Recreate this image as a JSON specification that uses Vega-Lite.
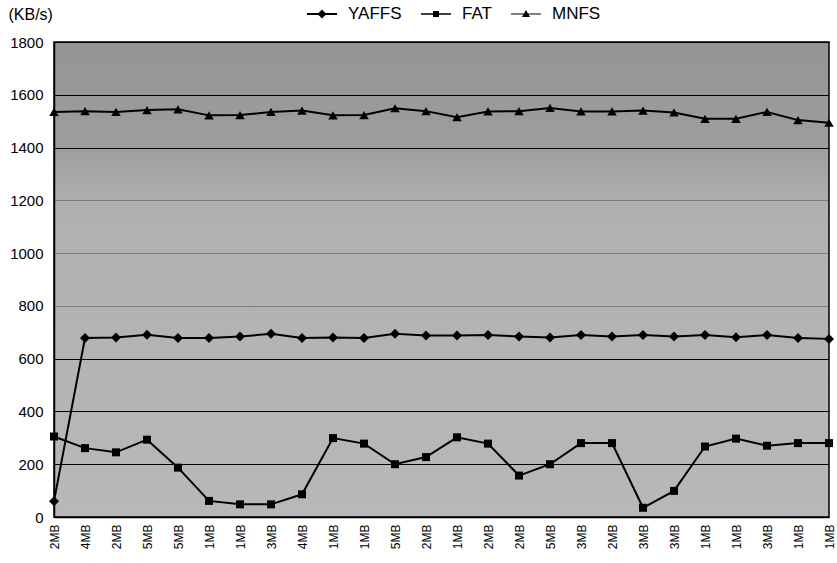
{
  "$schema": "https://vega.github.io/schema/vega-lite/v6.json",
  "width": 775,
  "height": 475,
  "autosize": {"type": "none"},
  "padding": {"left": 54, "top": 42, "right": 8, "bottom": 46},
  "background": "white",
  "config": {
    "font": "Liberation Sans",
    "view": {
      "stroke": "black",
      "strokeWidth": 1.5,
      "fill": {"gradient": "linear", "x1": 0, "y1": 0, "x2": 0, "y2": 1,
        "stops": [
          {"offset": 0, "color": "#959595"},
          {"offset": 0.22, "color": "#9d9d9d"},
          {"offset": 0.34, "color": "#b0b0b0"},
          {"offset": 1, "color": "#b8b8b8"}
        ]}
    },
    "axis": {"labelColor": "black", "titleColor": "black", "domainColor": "black"}
  },
  "data": {
    "values": [
      {"key": "01|2MB", "YAFFS": 60, "FAT": 305, "MNFS": 1535},
      {"key": "02|4MB", "YAFFS": 678, "FAT": 261, "MNFS": 1538},
      {"key": "03|2MB", "YAFFS": 680, "FAT": 245, "MNFS": 1535},
      {"key": "04|5MB", "YAFFS": 691, "FAT": 293, "MNFS": 1542},
      {"key": "05|5MB", "YAFFS": 678, "FAT": 187, "MNFS": 1545},
      {"key": "06|1MB", "YAFFS": 678, "FAT": 61, "MNFS": 1522},
      {"key": "07|1MB", "YAFFS": 684, "FAT": 48, "MNFS": 1523},
      {"key": "08|3MB", "YAFFS": 694, "FAT": 48, "MNFS": 1535},
      {"key": "09|4MB", "YAFFS": 678, "FAT": 86, "MNFS": 1540},
      {"key": "10|1MB", "YAFFS": 680, "FAT": 299, "MNFS": 1522},
      {"key": "11|1MB", "YAFFS": 678, "FAT": 278, "MNFS": 1523},
      {"key": "12|5MB", "YAFFS": 694, "FAT": 200, "MNFS": 1549},
      {"key": "13|2MB", "YAFFS": 688, "FAT": 227, "MNFS": 1538},
      {"key": "14|1MB", "YAFFS": 688, "FAT": 302, "MNFS": 1515},
      {"key": "15|2MB", "YAFFS": 690, "FAT": 278, "MNFS": 1537},
      {"key": "16|2MB", "YAFFS": 684, "FAT": 157, "MNFS": 1538},
      {"key": "17|5MB", "YAFFS": 680, "FAT": 200, "MNFS": 1550},
      {"key": "18|3MB", "YAFFS": 690, "FAT": 280, "MNFS": 1537},
      {"key": "19|2MB", "YAFFS": 684, "FAT": 280, "MNFS": 1537},
      {"key": "20|3MB", "YAFFS": 690, "FAT": 35, "MNFS": 1540},
      {"key": "21|3MB", "YAFFS": 684, "FAT": 99, "MNFS": 1533},
      {"key": "22|1MB", "YAFFS": 690, "FAT": 267, "MNFS": 1509},
      {"key": "23|1MB", "YAFFS": 681, "FAT": 297, "MNFS": 1509},
      {"key": "24|3MB", "YAFFS": 690, "FAT": 270, "MNFS": 1535},
      {"key": "25|1MB", "YAFFS": 678, "FAT": 280, "MNFS": 1504},
      {"key": "26|1MB", "YAFFS": 675, "FAT": 280, "MNFS": 1494}
    ]
  },
  "transform": [{"fold": ["YAFFS", "FAT", "MNFS"], "as": ["series", "value"]}],
  "encoding": {
    "x": {
      "field": "key", "type": "ordinal",
      "scale": {"type": "point", "padding": 0},
      "axis": {
        "title": null, "labelAngle": -90, "labelExpr": "split(datum.value, '|')[1]",
        "labelFontSize": 12, "labelPadding": 7, "ticks": false, "domainWidth": 1.5,
        "labelAlign": "right", "labelBaseline": "middle"
      }
    },
    "y": {
      "field": "value", "type": "quantitative",
      "scale": {"domain": [0, 1800], "nice": false},
      "axis": {
        "title": "(KB/s)", "titleAngle": 0, "titleX": -46, "titleY": -28,
        "titleAlign": "left", "titleBaseline": "middle", "titleFontSize": 16, "titleFontWeight": "normal",
        "values": [0, 200, 400, 600, 800, 1000, 1200, 1400, 1600, 1800],
        "format": "d",
        "labelFontSize": 15, "labelPadding": 11, "ticks": false, "domainWidth": 1.5,
        "grid": true,
        "gridColor": {"expr": "datum.value >= 800 && datum.value <= 1200 ? '#3a3a3a' : 'black'"},
        "gridOpacity": {"expr": "datum.value >= 800 && datum.value <= 1200 ? 0.45 : 1"},
        "gridWidth": 1
      }
    }
  },
  "layer": [
    {
      "mark": {"type": "line", "color": "black", "strokeWidth": 2},
      "encoding": {"detail": {"field": "series"}}
    },
    {
      "transform": [{"filter": "datum.series === 'YAFFS'"}],
      "mark": {"type": "point", "filled": true, "color": "black", "opacity": 1, "shape": "diamond", "size": 100}
    },
    {
      "transform": [{"filter": "datum.series === 'FAT'"}],
      "mark": {"type": "point", "filled": true, "color": "black", "opacity": 1, "shape": "square", "size": 64}
    },
    {
      "transform": [{"filter": "datum.series === 'MNFS'"}],
      "mark": {"type": "point", "filled": true, "color": "black", "opacity": 1, "shape": "triangle-up", "size": 90}
    },
    {
      "mark": {"type": "point", "filled": true, "color": "black", "opacity": 0},
      "encoding": {
        "shape": {
          "field": "series",
          "scale": {
            "domain": ["YAFFS", "FAT", "MNFS"],
            "range": [
              "M-1.5,-0.09H1.5V0.09H-1.5ZM-0.45,0L0,-0.45L0.45,0L0,0.45Z",
              "M-1.5,-0.07H1.5V0.07H-1.5ZM-0.3,-0.3H0.3V0.3H-0.3Z",
              "M-1.5,-0.06H1.5V0.06H-1.5ZM-0.4,0.3L0,-0.4L0.4,0.3Z"
            ]
          },
          "legend": {
            "title": null, "orient": "none", "direction": "horizontal",
            "legendX": 258, "legendY": -38, "padding": 0,
            "symbolSize": 400, "symbolOpacity": 1, "symbolFillColor": "black",
            "symbolStrokeColor": "black", "symbolStrokeWidth": 0,
            "labelFontSize": 17, "labelColor": "black", "labelOffset": 16,
            "columnPadding": 19,
            "encode": {
              "symbols": {
                "update": {
                  "fill": {"value": "black"},
                  "fillOpacity": {"value": 1},
                  "opacity": {"value": 1}
                }
              }
            }
          }
        }
      }
    }
  ]
}
